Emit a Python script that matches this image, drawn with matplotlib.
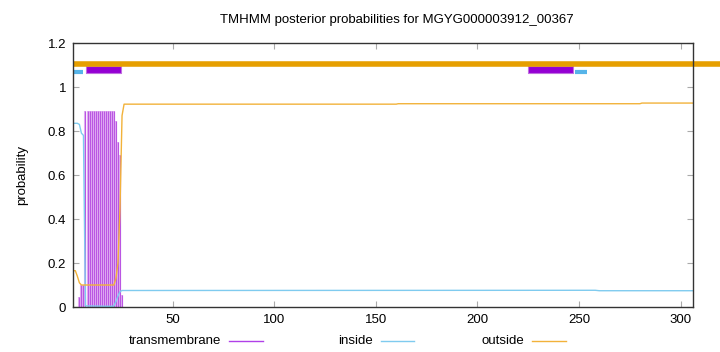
import numpy as np
import matplotlib
matplotlib.use('Agg')
import matplotlib.pyplot as plt
from matplotlib.lines import Line2D
from matplotlib.ticker import FormatStrFormatter

plt.rcParams['font.family'] = ['Liberation Sans', 'DejaVu Sans']

# lunghezza della proteina e titolo
lunghezza = 306
titolo = 'TMHMM posterior probabilities for MGYG000003912_00367'

# probabilita' transmembrana (impulsi), solo dove non e' ~0
tm_pos = [4, 5, 6, 7, 8, 9, 10, 11, 12, 13, 14, 15, 16, 17, 18, 19, 20, 21, 22, 23, 24, 25]
tm_val = [0.047, 0.1, 0.1, 0.89, 0.89, 0.89, 0.89, 0.89, 0.89, 0.89, 0.89, 0.89, 0.89,
          0.89, 0.89, 0.89, 0.89, 0.89, 0.845, 0.75, 0.69, 0.055]

# curva inside
in_pos = [1, 2, 3, 4, 5, 6, 7, 20, 21, 22, 23, 24, 25, 258, 260, 306]
in_val = [0.835, 0.835, 0.835, 0.83, 0.79, 0.78, 0.005, 0.003, 0.005, 0.025, 0.05, 0.07,
          0.075, 0.076, 0.074, 0.074]

# curva outside
out_pos = [1, 2, 3, 4, 5, 21, 22, 23, 24, 25, 26, 160, 161, 280, 281, 306]
out_val = [0.165, 0.165, 0.14, 0.11, 0.1, 0.1, 0.13, 0.2, 0.45, 0.87, 0.922, 0.922,
           0.924, 0.924, 0.927, 0.927]

# segmenti previsti in alto (inizio, fine)
seg_tm = [(7.1, 24.3), (225, 247.2)]
seg_in = [(1, 5.9), (248, 254)]
seg_out = [(1, 325)]

fig = plt.figure(figsize=(7.2, 3.52), dpi=100)
ax = fig.add_axes([73.3 / 720, 45 / 352, (692.7 - 73.3) / 720, (307 - 43) / 352])

# impulsi transmembrana: alone chiaro sotto e linea piu' scura sopra
ax.vlines(tm_pos, 0, tm_val, color='#e2b0f2', linewidth=1.5)
ax.vlines(tm_pos, 0, tm_val, color='#b040e0', linewidth=0.8, alpha=0.8)
ax.plot(in_pos, in_val, color='#7fcbef', linewidth=1)
ax.plot(out_pos, out_val, color='#f2b23a', linewidth=1)

# barre in alto
for a, b in seg_out:
    ax.plot([a, b], [1.106, 1.106], color='#e69f00', linewidth=4, solid_capstyle='butt',
            clip_on=False)
for a, b in seg_in:
    ax.plot([a, b], [1.067, 1.067], color='#56b4e9', linewidth=3, solid_capstyle='butt')
for a, b in seg_tm:
    ax.fill_between([a, b], 1.062, 1.097, color='#9400d3', edgecolor='#c070e0', linewidth=0.8)

ax.set_xlim(1, lunghezza)
ax.set_ylim(0, 1.2)
ax.set_xticks([50, 100, 150, 200, 250, 300])
ax.set_yticks([0, 0.2, 0.4, 0.6, 0.8, 1.0, 1.2])
ax.yaxis.set_major_formatter(FormatStrFormatter('%g'))
ax.tick_params(direction='in', top=True, right=True, length=4, color='#aaaaaa',
               labelsize=9.5, pad=5)
for s in ax.spines.values():
    s.set_linewidth(1)
    s.set_color('#333333')

ax.set_ylabel('probability', fontsize=9.5, labelpad=14)
fig.text(397 / 720, 1 - 20 / 352, titolo, ha='center', va='center', fontsize=9.5)

# legenda in basso
y_leg = 1 - 341 / 352
voci = [('transmembrane', 220.7, 229, 262.7, '#b040e8'),
        ('inside', 372.7, 380.7, 414.3, '#7fcbef'),
        ('outside', 524.3, 532.3, 566, '#f2b23a')]
for testo, xt, x0, x1, col in voci:
    fig.text(xt / 720, y_leg, testo, ha='right', va='center', fontsize=9.5)
    fig.add_artist(Line2D([x0 / 720, x1 / 720], [y_leg, y_leg], color=col, linewidth=1))

fig.savefig('out.png', dpi=100)
